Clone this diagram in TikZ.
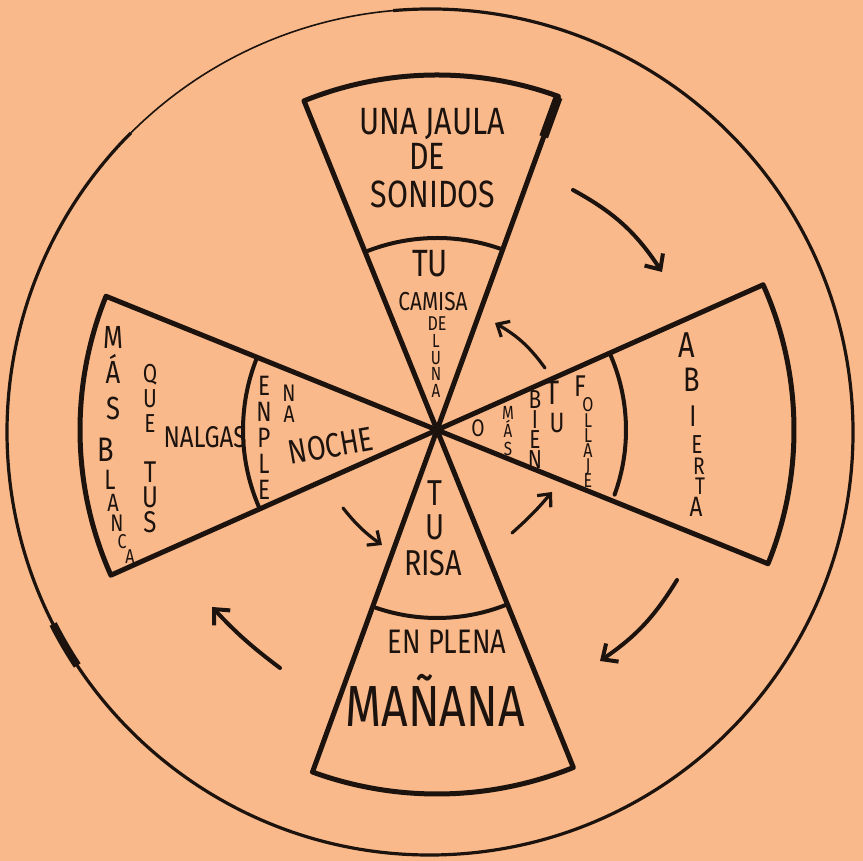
\documentclass[tikz,border=0pt]{standalone}
\usepackage{fontspec}
\setmainfont{Fira Sans}
\newfontfamily\hand[FakeStretch=0.8]{Fira Sans}
\usetikzlibrary{arrows.meta,calc}
\definecolor{bg}{RGB}{249,185,138}
\definecolor{ink}{RGB}{28,18,14}
\newcommand\tightlines{\lineskiplimit -100pt\relax}
\begin{document}
\begin{tikzpicture}[x=0.5pt,y=0.5pt,
  wedge/.style={draw=ink,line width=2.5pt,line join=round},
  inarc/.style={draw=ink,line width=2pt,line cap=round},
  ring/.style={draw=ink,line width=1.6pt},
  arr/.style={draw=ink,line width=2pt,line cap=round,-{Straight Barb[length=6pt,width=11pt,line width=2pt]}},
  iarr/.style={draw=ink,line width=1.6pt,line cap=round,-{Straight Barb[length=5pt,width=9pt,line width=1.6pt]}},
  txt/.style={text=ink,inner sep=0pt,font=\hand\fontsize{#1pt}{#1pt}\selectfont},
  stk/.style 2 args={text=ink,inner sep=0pt,align=center,
    font={\hand\fontsize{#1pt}{#2pt}\selectfont\tightlines}},
]
\useasboundingbox (0,0) rectangle (863,861);
\fill[bg] (0,0) rectangle (863,861);
% outer circle (fainter in the upper left)
\coordinate (O) at (430,429);
\draw[ring] ($(O)+(95:423)$) arc[start angle=95,end angle=-225,radius=423];
\draw[draw=ink,line width=0.8pt] ($(O)+(95:423)$) arc[start angle=95,end angle=135,radius=423];
\draw[draw=ink,line width=4pt] ($(O)+(207:423)$) arc[start angle=207,end angle=213.5,radius=423];
% centre of wedges
\coordinate (C) at (437,431);
% top wedge
\draw[wedge] (C) -- ($(C)+(112:355)$) arc[start angle=112,end angle=70,radius=355] -- cycle;
\draw[inarc] ($(C)+(112:192)$) arc[start angle=112,end angle=70,radius=192];
\draw[draw=ink,line width=4.5pt] ($(C)+(70:312)$) -- ($(C)+(70:354)$);
% bottom wedge
\draw[wedge] (C) -- ($(C)+(250:364)$) arc[start angle=250,end angle=292,radius=364] -- cycle;
\draw[inarc] ($(C)+(251:188)$) arc[start angle=251,end angle=292,radius=188];
% left wedge
\draw[wedge] (C) -- ($(C)+(158:357)$) arc[start angle=158,end angle=204,radius=357] -- cycle;
\draw[inarc] ($(C)+(158:194)$) arc[start angle=158,end angle=204,radius=194];
% right wedge
\draw[wedge] (C) -- ($(C)+(24:357)$) arc[start angle=24,end angle=-22,radius=357] -- cycle;
\draw[inarc] ($(C)+(24:189)$) arc[start angle=24,end angle=-20,radius=189];

% top wedge texts
\node[txt=19] (t1) at (432,861-124) {UNA JAULA};
\node[txt=19] (t2) at (427,861-156) {DE};
\node[txt=19] (t3) at (433,861-194) {SONIDOS};
\node[txt=19] (t4) at (430,861-264) {TU};
\node[txt=13] (t5) at (433,861-302) {CAMISA};
\node[txt=10] (t6) at (437,861-324) {DE};
\node[stk={9.5}{8.2}] (luna) at (436,861-366) {L\\U\\N\\A};

% left wedge texts
\node[stk={16}{17.75}] (mas) at (113,861-373) {M\\Á\\S};
\foreach \ch/\px/\py/\sz [count=\i] in {B/106/450/17,L/110/480/14,A/113/503/12.5,N/117/523/12,C/122/542/10,A/130/557/10}
  \node[txt=\sz] (bl\i) at (\px,861-\py) {\ch};
\node[stk={13}{12.5}] (que) at (150,861-398) {Q\\U\\E};
\node[stk={15}{12.5}] (tus) at (150,861-497) {T\\U\\S};
\node[txt=15] (na) at (205,861-437) {NALGAS};
\node[stk={14}{13}] (enple) at (264,861-438) {E\\N\\P\\L\\E};
\node[stk={12}{10.5}] (nna) at (289,861-404) {N\\A};
\node[txt=17,rotate=10] (no) at (331,861-446) {NOCHE};

% right wedge texts
\node[txt=12] (ro) at (478,861-428) {O};
\node[stk={9.5}{9}] (rmas) at (508,861-431) {M\\Á\\S};
\node[stk={13}{10}] (bien) at (535,861-430) {B\\I\\E\\N};
\node[txt=17] (rt) at (553,861-393) {T};
\node[txt=14] (ru) at (557,861-423) {U};
\node[txt=15] (ff) at (580,861-386) {F};
\node[stk={10}{7.6}] (ollaje) at (588,861-443) {O\\L\\L\\A\\J\\E};
\foreach \ch/\px/\py/\sz [count=\i] in {A/687/345/18,B/692/380/17,I/693/416/15,E/697/445/13,R/699/466/12,T/700/486/12,A/696/507/14}
  \node[txt=\sz] (ab\i) at (\px,861-\py) {\ch};

% bottom wedge texts
\node[txt=18] (bt) at (435,861-493) {T};
\node[txt=18] (bu) at (435,861-527) {U};
\node[txt=18] (br) at (433,861-563) {RISA};
\node[txt=17] (bp) at (447,861-642) {EN PLENA};
\node[txt=29] (bm) at (435,861-700) {MAÑANA};

% arrows
\coordinate (a1s) at (573,861-190); \coordinate (a1e) at (662,861-272);
\coordinate (a2s) at (677,861-580); \coordinate (a2e) at (600,861-661);
\coordinate (a3s) at (280,861-668); \coordinate (a3e) at (212,861-607);
\coordinate (a4s) at (545,861-368); \coordinate (a4e) at (495,861-323);
\coordinate (a5s) at (512,861-533); \coordinate (a5e) at (552,861-492);
\coordinate (a6s) at (343,861-508); \coordinate (a6e) at (382,861-545);
\draw[arr] (a1s) to[bend left=14] (a1e);
\draw[arr] (a2s) to[bend left=12] (a2e);
\draw[arr] (a3s) to[bend left=5] (a3e);
\draw[iarr] (a4s) to[bend right=12] (a4e);
\draw[iarr] (a5s) to[bend right=4] (a5e);
\draw[iarr] (a6s) to[bend right=8] (a6e);
\end{tikzpicture}
\end{document}
